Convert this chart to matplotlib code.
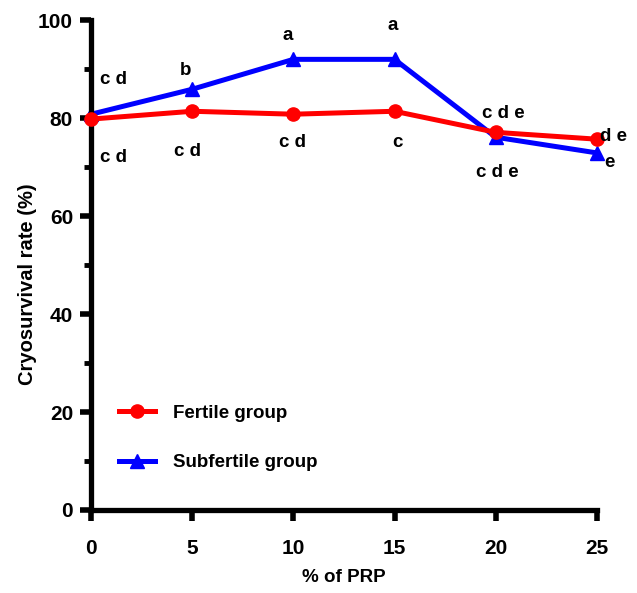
import matplotlib
matplotlib.use("Agg")
import matplotlib.pyplot as plt
from matplotlib.ticker import MultipleLocator

plt.rcParams['font.family'] = ['Liberation Sans', 'DejaVu Sans']
plt.rcParams['font.weight'] = 'bold'

prp = [0, 5, 10, 15, 20, 25]
fertile = [79.8, 81.4, 80.8, 81.4, 77.1, 75.7]
subfertile = [80.8, 85.9, 92.0, 92.0, 76.1, 72.9]

letters = ["c d", "c d", "b", "a", "c d", "c d", "a", "c", "c d e", "c d e", "d e", "e"]
letter_x = [1.09, 1.09, 4.69, 9.73, 9.98, 4.79, 14.92, 15.12, 20.4, 20.06, 25.8, 25.6]
letter_y = [87.8, 72.0, 89.8, 96.9, 75.1, 73.1, 99.0, 75.1, 81.0, 68.8, 76.3, 71.0]

fig = plt.figure(figsize=(6.37, 5.93), dpi=100)
ax = fig.add_axes([0.143, 0.140, 0.794, 0.826])

ax.plot(prp, fertile, color='#ff0000', lw=3.6, marker='o', ms=9.5, label='Fertile group', clip_on=False, zorder=3)
ax.plot(prp, subfertile, color='#0000ff', lw=3.6, marker='^', ms=9.5, label='Subfertile group', clip_on=False, zorder=2)

for t, x, y in zip(letters, letter_x, letter_y):
    ax.text(x, y, t, ha='center', va='center', fontsize=13.5, fontweight='bold')

ax.set_xlim(0, 25)
ax.set_ylim(0, 100)
ax.set_xticks(prp)
ax.set_yticks([0, 20, 40, 60, 80, 100])
ax.yaxis.set_minor_locator(MultipleLocator(10))
for s in ['top', 'right']:
    ax.spines[s].set_visible(False)
for s in ['left', 'bottom']:
    ax.spines[s].set_linewidth(3.8)
    ax.spines[s].set_capstyle('projecting')
ax.tick_params(axis='both', which='major', width=4, length=8, labelsize=15, pad=5)
ax.tick_params(axis='y', which='minor', width=3.5, length=5)
ax.tick_params(axis='x', which='major', pad=13)

ax.set_xlabel('% of PRP', fontsize=13.5, fontweight='bold', labelpad=8)
ax.set_ylabel('Cryosurvival rate (%)', fontsize=14.5, fontweight='bold')
ax.yaxis.set_label_coords(-0.106, 0.46)

leg = ax.legend(loc='upper left', bbox_to_anchor=(0.022, 0.25), frameon=False, fontsize=13.5,
                handlelength=1.9, labelspacing=1.75, handletextpad=1.0, borderpad=0.4)

fig.savefig('out.png', dpi=100)
